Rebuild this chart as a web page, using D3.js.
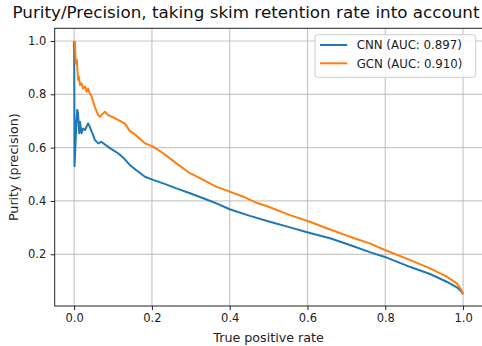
<!DOCTYPE html>
<html><head><meta charset="utf-8">
<script src="https://cdn.jsdelivr.net/npm/d3@7"></script>
<style>body{margin:0;background:#fff}svg{display:block}</style>
</head><body>
<script>
const title = "Purity/Precision, taking skim retention rate into account";
const xLabel = "True positive rate";
const yLabel = "Purity (precision)";
const xTicks = [0, 0.2, 0.4, 0.6, 0.8, 1.0];
const yTicks = [0.2, 0.4, 0.6, 0.8, 1.0];
const seriesNames = ["CNN (AUC: 0.897)", "GCN (AUC: 0.910)"];
const seriesColors = ["#1f77b4", "#ff7f0e"];

const cnnTPR = [0, 0.0005, 0.001, 0.003, 0.006, 0.008, 0.010, 0.013, 0.015, 0.019, 0.023, 0.028, 0.032, 0.036, 0.040, 0.045, 0.049, 0.053, 0.062, 0.070, 0.079, 0.092, 0.100, 0.113, 0.128, 0.143, 0.160, 0.182, 0.203, 0.229, 0.263, 0.298, 0.332, 0.366, 0.400, 0.452, 0.503, 0.555, 0.606, 0.658, 0.709, 0.760, 0.799, 0.863, 0.915, 0.958, 0.984, 0.996, 1.0];
const cnnPurity = [1.0, 0.80, 0.53, 0.60, 0.70, 0.741, 0.729, 0.654, 0.697, 0.654, 0.672, 0.666, 0.679, 0.691, 0.679, 0.660, 0.647, 0.629, 0.616, 0.622, 0.612, 0.598, 0.591, 0.579, 0.560, 0.535, 0.515, 0.491, 0.479, 0.466, 0.447, 0.429, 0.410, 0.391, 0.369, 0.344, 0.322, 0.301, 0.280, 0.260, 0.235, 0.208, 0.190, 0.153, 0.126, 0.097, 0.076, 0.060, 0.050];

const gcnTPR = [0, 0.002, 0.004, 0.007, 0.009, 0.010, 0.012, 0.015, 0.019, 0.023, 0.028, 0.032, 0.036, 0.040, 0.045, 0.049, 0.053, 0.058, 0.062, 0.066, 0.070, 0.079, 0.087, 0.100, 0.113, 0.130, 0.143, 0.156, 0.182, 0.203, 0.229, 0.263, 0.298, 0.332, 0.366, 0.400, 0.435, 0.469, 0.495, 0.555, 0.606, 0.658, 0.709, 0.760, 0.799, 0.863, 0.915, 0.958, 0.984, 0.996, 1.0];
const gcnPurity = [1.0, 0.997, 0.916, 0.929, 0.879, 0.854, 0.866, 0.835, 0.841, 0.822, 0.829, 0.810, 0.822, 0.804, 0.791, 0.772, 0.754, 0.735, 0.722, 0.716, 0.722, 0.735, 0.722, 0.714, 0.704, 0.691, 0.663, 0.650, 0.616, 0.604, 0.579, 0.541, 0.504, 0.479, 0.453, 0.435, 0.416, 0.393, 0.381, 0.347, 0.322, 0.293, 0.266, 0.241, 0.216, 0.179, 0.147, 0.116, 0.091, 0.066, 0.050];

const W = 482, H = 346;
const m = {left: 54.7, top: 28.3, right: 482.5, bottom: 306};
const svg = d3.select("body").append("svg").attr("width", W).attr("height", H);
const x = d3.scaleLinear().domain([-0.05, 1.05]).range([m.left, m.right]);
const y = d3.scaleLinear().domain([0.006, 1.0476]).range([m.bottom, m.top]);

// grid
svg.append("g").selectAll("line").data(xTicks).join("line")
  .attr("x1", d => x(d)).attr("x2", d => x(d)).attr("y1", m.top).attr("y2", m.bottom)
  .attr("stroke", "#b0b0b0").attr("stroke-opacity", 0.7).attr("stroke-width", 1.2);
svg.append("g").selectAll("line").data(yTicks).join("line")
  .attr("y1", d => y(d)).attr("y2", d => y(d)).attr("x1", m.left).attr("x2", m.right)
  .attr("stroke", "#b0b0b0").attr("stroke-opacity", 0.7).attr("stroke-width", 1.2);

// lines
const line = d3.line().x(d => x(d[0])).y(d => y(d[1]));
const data = [d3.zip(cnnTPR, cnnPurity), d3.zip(gcnTPR, gcnPurity)];
svg.append("clipPath").attr("id", "c").append("rect")
  .attr("x", m.left).attr("y", m.top).attr("width", m.right - m.left).attr("height", m.bottom - m.top);
data.forEach((d, i) => {
  svg.append("path").datum(d).attr("d", line).attr("fill", "none")
    .attr("stroke", seriesColors[i]).attr("stroke-width", 2).attr("stroke-linejoin", "round")
    .attr("clip-path", "url(#c)");
});

// axes
const xAxis = d3.axisBottom(x).tickValues(xTicks).tickFormat(d3.format(".1f")).tickSize(4).tickPadding(4);
const gx = svg.append("g").attr("transform", `translate(0,${m.bottom})`).call(xAxis);
gx.select(".domain").remove();
gx.selectAll("text").attr("font-family", "DejaVu Sans").attr("font-size", 11.5).attr("fill", "#222");
gx.selectAll("line").attr("stroke", "#222");
const yAxis = d3.axisLeft(y).tickValues(yTicks).tickFormat(d3.format(".1f")).tickSize(4).tickPadding(4.5);
const gy = svg.append("g").attr("transform", `translate(${m.left},0)`).call(yAxis);
gy.select(".domain").remove();
gy.selectAll("text").attr("font-family", "DejaVu Sans").attr("font-size", 11.5).attr("fill", "#222");
gy.selectAll("line").attr("stroke", "#222");

// spines
svg.append("rect").attr("x", m.left).attr("y", m.top).attr("width", m.right - m.left).attr("height", m.bottom - m.top)
  .attr("fill", "none").attr("stroke", "#222").attr("stroke-width", 1);

// labels
svg.append("text").attr("x", (m.left + m.right) / 2).attr("y", 341.5).attr("text-anchor", "middle")
  .attr("font-family", "DejaVu Sans").attr("font-size", 12.7).attr("fill", "#222").text(xLabel);
svg.append("text").attr("transform", `translate(17.5,${(m.top + m.bottom) / 2}) rotate(-90)`).attr("text-anchor", "middle")
  .attr("font-family", "DejaVu Sans").attr("font-size", 12.7).attr("fill", "#222").text(yLabel);
svg.append("text").attr("x", 246).attr("y", 17.5).attr("text-anchor", "middle")
  .attr("font-family", "DejaVu Sans").attr("font-size", 15.5).attr("fill", "#111")
  .attr("textLength", 467).attr("lengthAdjust", "spacingAndGlyphs").text(title);

// legend
const lg = svg.append("g");
lg.append("rect").attr("x", 315).attr("y", 34.7).attr("width", 160.7).attr("height", 42.6).attr("rx", 3)
  .attr("fill", "#fff").attr("fill-opacity", 0.8).attr("stroke", "#ccc").attr("stroke-width", 1);
seriesNames.forEach((n, i) => {
  const yy = 45 + i * 18.3;
  lg.append("line").attr("x1", 320).attr("x2", 347.3).attr("y1", yy).attr("y2", yy)
    .attr("stroke", seriesColors[i]).attr("stroke-width", 2);
  lg.append("text").attr("x", 356.7).attr("y", yy).attr("dy", "0.36em")
    .attr("font-family", "DejaVu Sans").attr("font-size", 11.8).attr("fill", "#222").text(n);
});
</script>
</body></html>
